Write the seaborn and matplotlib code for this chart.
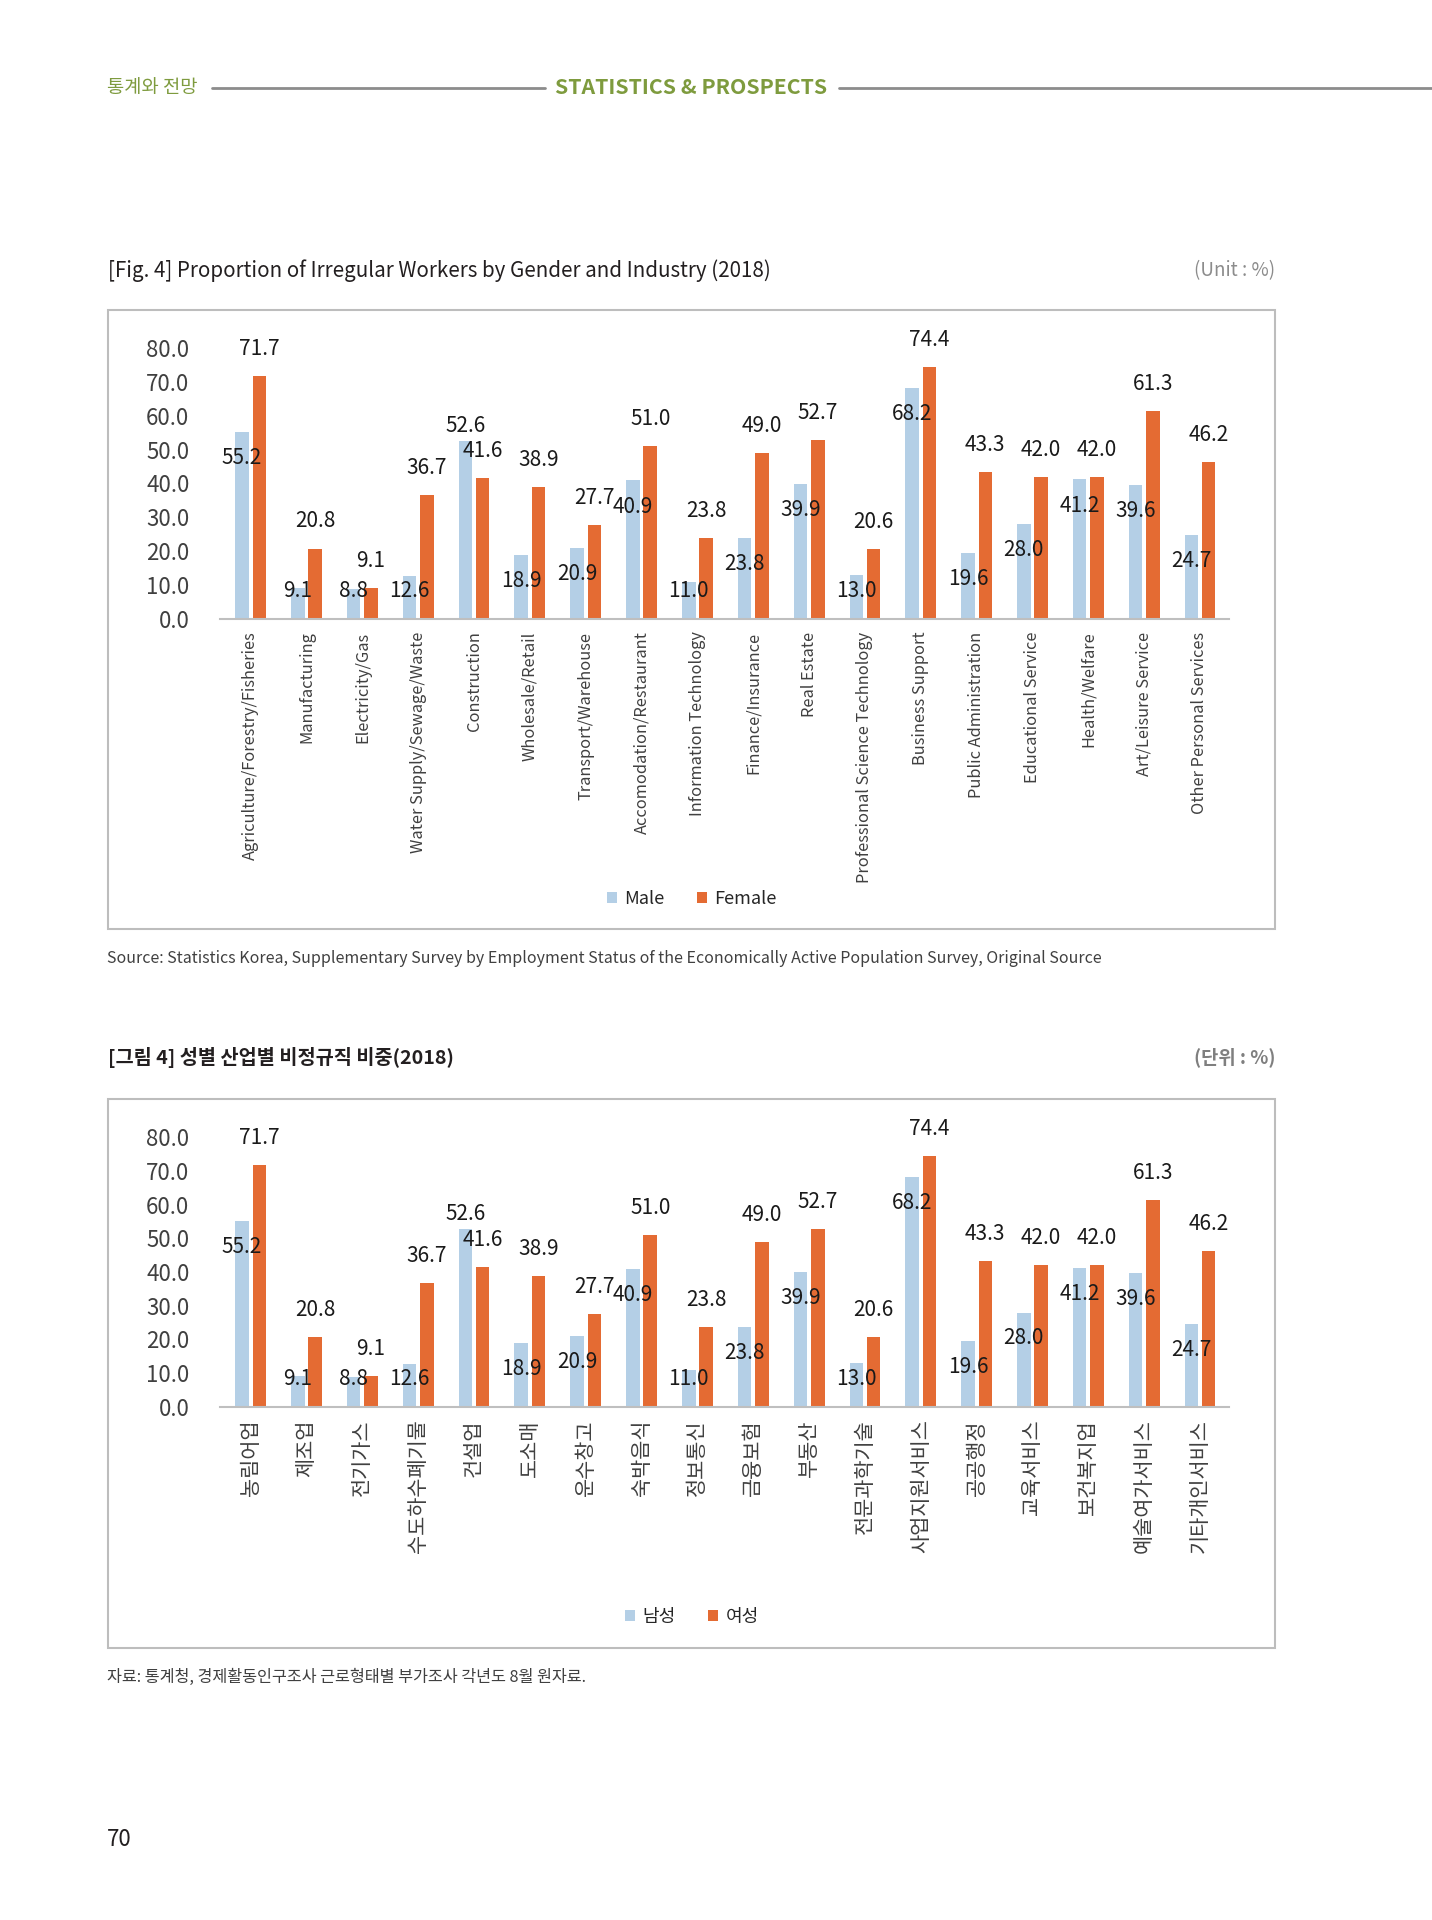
import pandas as pd
import matplotlib
matplotlib.use("Agg")
import matplotlib.pyplot as plt
import seaborn as sns
from matplotlib.patches import Rectangle
from matplotlib.lines import Line2D

# 산업 분류 (영문 / 국문)
categories_en = ["Agriculture/Forestry/Fisheries", "Manufacturing", "Electricity/Gas",
                 "Water Supply/Sewage/Waste", "Construction", "Wholesale/Retail",
                 "Transport/Warehouse", "Accomodation/Restaurant", "Information Technology",
                 "Finance/Insurance", "Real Estate", "Professional Science Technology",
                 "Business Support", "Public Administration", "Educational Service",
                 "Health/Welfare", "Art/Leisure Service", "Other Personal Services"]
categories_ko = ["농림어업", "제조업", "전기가스", "수도하수폐기물", "건설업", "도소매",
                 "운수창고", "숙박음식", "정보통신", "금융보험", "부동산", "전문과학기술",
                 "사업지원서비스", "공공행정", "교육서비스", "보건복지업", "예술여가서비스",
                 "기타개인서비스"]

# 비정규직 비중 (%)
male = [55.2, 9.1, 8.8, 12.6, 52.6, 18.9, 20.9, 40.9, 11.0, 23.8, 39.9, 13.0,
        68.2, 19.6, 28.0, 41.2, 39.6, 24.7]
female = [71.7, 20.8, 9.1, 36.7, 41.6, 38.9, 27.7, 51.0, 23.8, 49.0, 52.7, 20.6,
          74.4, 43.3, 42.0, 42.0, 61.3, 46.2]

gender_en = ["Male", "Female"]
gender_ko = ["남성", "여성"]
yticks = [0, 10, 20, 30, 40, 50, 60, 70, 80]

BLUE = "#B4CFE6"
ORANGE = "#E46B33"
GREEN = "#7E9B3E"

sns.set_style("white")
plt.rcParams["font.family"] = ["Noto Sans CJK KR", "DejaVu Sans"]

W, H = 1432, 1920
fig = plt.figure(figsize=(W / 100, H / 100), dpi=100)


def fx(px):
    return px / W


def fy(py):
    return 1 - py / H


def make_df(cats, genders):
    rows = []
    for c, m, f in zip(cats, male, female):
        rows.append({"category": c, "gender": genders[0], "value": m})
        rows.append({"category": c, "gender": genders[1], "value": f})
    return pd.DataFrame(rows)


def draw_chart(top, bottom, y0, y80, cats, genders, legend_y, tick_size):
    # 외곽 박스
    fig.add_artist(Rectangle((fx(108), fy(bottom)), fx(1275) - fx(108), fy(top) - fy(bottom),
                             transform=fig.transFigure, fill=False, edgecolor="#BDBDBD", lw=1.5))
    ax = fig.add_axes([fx(220), fy(y0), fx(1229) - fx(220), fy(y80) - fy(y0)])
    df = make_df(cats, genders)
    sns.barplot(data=df, x="category", y="value", hue="gender", palette=[BLUE, ORANGE],
                width=0.62, gap=0.22, saturation=1, errorbar=None, linewidth=0, ax=ax)
    ax.set_xlim(-0.55, 17.52)
    ax.set_ylim(0, 80)
    ax.set_yticks(yticks)
    ax.set_yticklabels([f"{t:.1f}" for t in yticks], fontsize=16, color="#404040")
    ax.tick_params(axis="y", length=0, pad=22)
    ax.tick_params(axis="x", length=0, pad=9)
    plt.setp(ax.get_xticklabels(), rotation=90, fontsize=tick_size, color="#404040")
    ax.set_xlabel("")
    ax.set_ylabel("")
    for s in ["top", "right", "left"]:
        ax.spines[s].set_visible(False)
    ax.spines["bottom"].set_color("#BFBFBF")
    ax.spines["bottom"].set_linewidth(1.5)

    # 값 레이블
    mbars, fbars = ax.containers[0], ax.containers[1]
    for mb, fb in zip(mbars, fbars):
        mv, fv = mb.get_height(), fb.get_height()
        mx = mb.get_x() + mb.get_width() / 2
        fxx = fb.get_x() + fb.get_width() / 2
        if mv > fv:
            my = mv + 4.5
        else:
            my = max(mv - 7.7, 8.3)
        ax.text(mx, my, f"{mv:.1f}", ha="center", va="center", fontsize=15, color="#1A1A1A")
        ax.text(fxx, fv + 8, f"{fv:.1f}", ha="center", va="center", fontsize=15, color="#1A1A1A")

    handles, labels = ax.get_legend_handles_labels()
    ax.legend(handles, labels, loc="center", bbox_to_anchor=(fx(692), fy(legend_y)),
              bbox_transform=fig.transFigure, ncol=2, frameon=False, fontsize=13,
              handlelength=0.55, handleheight=0.55, handletextpad=0.4, columnspacing=1.8)
    return ax


# 상단 머리글
fig.text(fx(107), fy(88), "통계와 전망", fontsize=13.5, color=GREEN, va="center")
fig.text(fx(555), fy(88), "STATISTICS & PROSPECTS", fontsize=15.3, color=GREEN,
         fontweight="bold", va="center")
fig.add_artist(Line2D([fx(212), fx(545)], [fy(88), fy(88)], color="#8C8C8C", lw=2))
fig.add_artist(Line2D([fx(839), fx(1432)], [fy(88), fy(88)], color="#8C8C8C", lw=2))

# 그림 1 (영문)
fig.text(fx(108), fy(271), "[Fig. 4] Proportion of Irregular Workers by Gender and Industry (2018)",
         fontsize=14.8, color="#231F20", va="center")
fig.text(fx(1275), fy(271), "(Unit : %)", fontsize=13.5, color="#8C8C8C", va="center", ha="right")
draw_chart(310, 929, 619, 348, categories_en, gender_en, 899, 11.8)
fig.text(fx(107), fy(958), "Source: Statistics Korea, Supplementary Survey by Employment Status of the "
         "Economically Active Population Survey, Original Source",
         fontsize=11.5, color="#404040", va="center")

# 그림 2 (국문)
fig.text(fx(108), fy(1057), "[그림 4] 성별 산업별 비정규직 비중(2018)", fontsize=14.2,
         color="#231F20", fontweight="bold", va="center")
fig.text(fx(1275), fy(1057), "(단위 : %)", fontsize=13.5, color="#7F7F7F", fontweight="bold",
         va="center", ha="right")
draw_chart(1099, 1648, 1407, 1137, categories_ko, gender_ko, 1617, 15)
fig.text(fx(107), fy(1677), "자료: 통계청, 경제활동인구조사 근로형태별 부가조사 각년도 8월 원자료.",
         fontsize=11.7, color="#404040", va="center")

fig.text(fx(107), fy(1840), "70", fontsize=16, color="#231F20", va="center")

fig.savefig("out.png", dpi=100)
